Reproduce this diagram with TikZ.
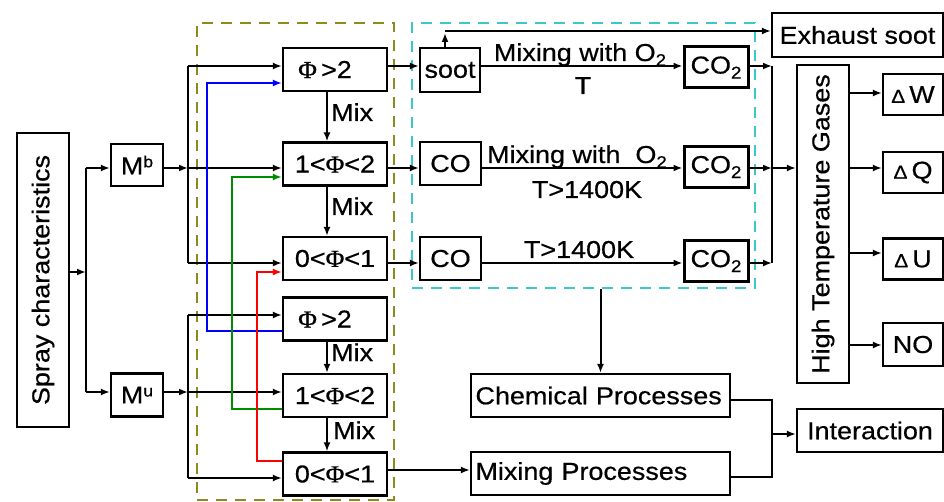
\documentclass[tikz,border=0pt]{standalone}
\usepackage{fontspec}
\setmainfont{Liberation Sans}[FakeStretch=1.1,FakeBold=0.5]
\newfontfamily\phifont{Liberation Serif}[FakeStretch=1.05,FakeBold=0.5]
\usetikzlibrary{arrows.meta}
\definecolor{olivedash}{RGB}{140,140,30}
\definecolor{cyandash}{RGB}{60,200,200}
\definecolor{bluel}{RGB}{0,0,255}
\definecolor{greenl}{RGB}{0,140,0}
\definecolor{redl}{RGB}{255,0,0}
\newcommand{\myphi}{{\phifont Φ}}
\newcommand{\mysub}[1]{\raisebox{-5pt}{\fontsize{17}{17}\selectfont #1}}
\newcommand{\mysup}[1]{\raisebox{7pt}{\fontsize{16}{16}\selectfont #1}}
\newcommand{\mydelta}{{\fontsize{19}{19}\selectfont Δ}}
\tikzset{
  every node/.style={font=\fontsize{24.5}{28}\selectfont, inner sep=0pt},
  box/.style={draw, line width=2.2pt},
  boldbox/.style={draw, line width=3pt},
  ln/.style={line width=2pt},
  arr/.style={line width=2pt, -{Latex[length=9pt,width=7pt]}},
  oldash/.style={draw=olivedash, line width=2.8pt, dash pattern=on 11pt off 8pt},
  cydash/.style={draw=cyandash, line width=2.8pt, dash pattern=on 11pt off 8pt},
  phibox/.style={box, minimum width=104, minimum height=43},
  dbox/.style={box, minimum width=60, minimum height=41},
  procbox/.style={box, minimum width=259, minimum height=43, text width=250, align=left},
}
\begin{document}
\begin{tikzpicture}[x=1pt,y=-1pt]
\useasboundingbox[fill=white] (0,0) rectangle (944,502);

% dashed groups
\node[oldash, minimum width=197, minimum height=477] (olive) at (295.5,261.5) {};
\node[cydash, minimum width=343, minimum height=265] (cyan) at (583.5,155.5) {};

% left part
\node[box, minimum width=52, minimum height=294] (spray) at (43,280) {};
\node[rotate=90] (spraytxt) at (spray.center) {Spray characteristics};
\node[box, minimum width=52, minimum height=42] (mb) at (137,165) {M\mysup{b}};
\node[box, minimum width=52, minimum height=43] (mu) at (137,395) {M\mysup{u}};

\node[phibox] (phiA) at (335,69.5) {\myphi\,>2\hspace*{20pt}};
\node[phibox] (phiB) at (335,164) {1<\myphi<2};
\node[phibox] (phiC) at (335,258.5) {0<\myphi<1};
\node[phibox] (phiD) at (335,319) {\myphi\,>2\hspace*{20pt}};
\node[phibox] (phiE) at (335,395.5) {1<\myphi<2};
\node[phibox] (phiF) at (335,474) {0<\myphi<1};

% rows
\coordinate (r1) at (0,66);
\coordinate (r2) at (0,168);
\coordinate (r3) at (0,263);
\coordinate (r4) at (0,315);
\coordinate (r5) at (0,392);
\coordinate (r6) at (0,478);
\coordinate (r7) at (0,470);
\coordinate (js) at (86,272);
\coordinate (jb) at (188,168);
\coordinate (ju) at (188,392);
\coordinate (mixx) at (327,0);

\draw[arr] (spray.east |- js) -- (js);
\draw[ln] (js |- r2) -- (js |- r5);
\draw[arr] (js |- r2) -- (mb.west |- r2);
\draw[arr] (js |- r5) -- (mu.west |- r5);

\draw[arr] (mb.east |- r2) -- (jb);
\draw[ln] (jb |- r1) -- (jb |- r3);
\draw[arr] (jb |- r1) -- (phiA.west |- r1);
\draw[arr] (jb) -- (phiB.west |- r2);
\draw[arr] (jb |- r3) -- (phiC.west |- r3);

\draw[arr] (mu.east |- r5) -- (ju);
\draw[ln] (ju |- r4) -- (ju |- r6);
\draw[arr] (ju |- r4) -- (phiD.west |- r4);
\draw[arr] (ju) -- (phiE.west |- r5);
\draw[arr] (ju |- r6) -- (phiF.west |- r6);

% Mix arrows
\draw[arr] (phiA.south -| mixx) -- (phiB.north -| mixx);
\draw[arr] (phiB.south -| mixx) -- (phiC.north -| mixx);
\draw[arr] (phiD.south -| mixx) -- (phiE.north -| mixx);
\draw[arr] (phiE.south -| mixx) -- (phiF.north -| mixx);
\node[anchor=base west] (mix1) at (331,121) {Mix};
\node[anchor=base west] (mix2) at (331,215) {Mix};
\node[anchor=base west] (mix3) at (331,361) {Mix};
\node[anchor=base west] (mix4) at (333,439) {Mix};

% coloured feedback lines
\coordinate (bx) at (207,331); \coordinate (by) at (207,83);
\coordinate (gx) at (232,409); \coordinate (gy) at (232,177);
\coordinate (rx) at (257,461); \coordinate (ry) at (257,272);
\draw[arr, bluel] (phiD.west |- bx) -- (bx) -- (by) -- (phiA.west |- by);
\draw[arr, greenl] (phiE.west |- gx) -- (gx) -- (gy) -- (phiB.west |- gy);
\draw[arr, redl] (phiF.west |- rx) -- (rx) -- (ry) -- (phiC.west |- ry);

% chemistry part
\node[box, minimum width=60, minimum height=44] (soot) at (450,70) {soot};
\node[box, minimum width=61, minimum height=43] (coM) at (450.5,163.5) {CO};
\node[box, minimum width=61, minimum height=43] (coB) at (450.5,258.5) {CO};
\node[boldbox, minimum width=64, minimum height=41] (co2A) at (716,67.5) {CO\mysub{2}};
\node[boldbox, minimum width=64, minimum height=41] (co2B) at (716,167) {CO\mysub{2}};
\node[boldbox, minimum width=64, minimum height=41] (co2C) at (716,261) {CO\mysub{2}};

\draw[arr] (phiA.east |- r1) -- (soot.west |- r1);
\draw[arr] (phiB.east |- r2) -- (coM.west |- r2);
\draw[arr] (phiC.east |- r3) -- (coB.west |- r3);
\draw[arr] (soot.east |- r1) -- (co2A.west |- r1);
\draw[arr] (coM.east |- r2) -- (co2B.west |- r2);
\draw[arr] (coB.east |- r3) -- (co2C.west |- r3);

\node[anchor=base] (l1) at (580,61) {Mixing with O\mysub{2}};
\node[anchor=base] (l2) at (583,94) {T};
\node[anchor=base] (l3) at (577,163) {Mixing with\ \ O\mysub{2}};
\node[anchor=base] (l4) at (587,198) {T>1400K};
\node[anchor=base] (l5) at (579,258) {T>1400K};

% exhaust soot
\node[box, minimum width=171, minimum height=44] (exh) at (857.5,35) {Exhaust soot};
\coordinate (sootup) at (445,33);
\coordinate (sl) at (0,31);
\draw[arr] (soot.north -| sootup) -- (sootup);
\draw[arr] (sootup |- sl) -- (exh.west |- sl);

% high temperature gases
\node[box, minimum width=52, minimum height=318] (htg) at (823,224) {};
\node[rotate=90] (htgtxt) at (htg.center) {High Temperature Gases};
\coordinate (jc) at (772,168);
\draw[arr] (co2A.east |- r1) -- (jc |- r1);
\draw[arr] (co2B.east |- r2) -- (jc |- r2);
\draw[arr] (co2C.east |- r3) -- (jc |- r3);
\draw[ln] (jc |- r1) -- (jc |- r3);
\draw[arr] (jc) -- (htg.west |- jc);

\node[dbox] (dW) at (913,94.5) {\mydelta\,W};
\node[dbox] (dQ) at (913,172.5) {\mydelta\,Q};
\node[dbox] (dU) at (913,259) {\mydelta\,U};
\node[box, minimum width=60, minimum height=43] (no) at (913,344.5) {NO};
\coordinate (yw) at (0,93);
\coordinate (yq) at (0,168);
\coordinate (yu) at (0,253);
\coordinate (yn) at (0,345);
\draw[arr] (htg.east |- yw) -- (dW.west |- yw);
\draw[arr] (htg.east |- yq) -- (dQ.west |- yq);
\draw[arr] (htg.east |- yu) -- (dU.west |- yu);
\draw[arr] (htg.east |- yn) -- (no.west |- yn);

% processes
\node[procbox] (chem) at (600.5,395.5) {Chemical Processes};
\node[procbox] (mixp) at (600.5,473.5) {Mixing Processes};
\node[box, minimum width=146, minimum height=43] (inter) at (870,430.5) {Interaction};
\draw[arr] (cyan.south -| chem.north) -- (chem.north);
\draw[arr] (phiF.east |- r7) -- (mixp.west |- r7);
\coordinate (ci) at (772,400);
\coordinate (mi) at (772,477);
\coordinate (ji) at (772,434);
\draw[ln] (chem.east |- ci) -- (ci) -- (mi) -- (mixp.east |- mi);
\draw[arr] (ji) -- (inter.west |- ji);
\end{tikzpicture}
\end{document}
